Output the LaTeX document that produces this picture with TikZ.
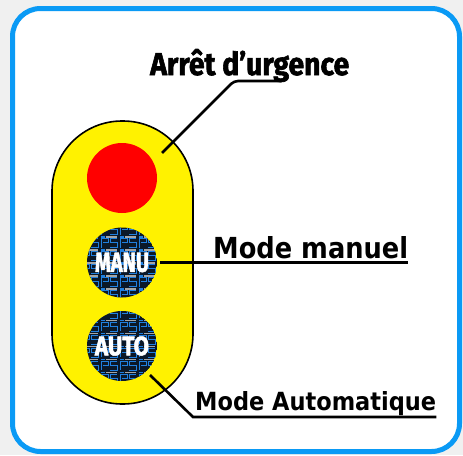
\documentclass[tikz,border=0pt]{standalone}
\usepackage{fontspec}
\usepackage{graphicx}
\newfontfamily\condfont{Fira Sans}[BoldFeatures={FakeBold=2}]
\newfontfamily\modefont{DejaVu Sans}
\definecolor{bgout}{HTML}{F0F0F0}
\definecolor{frameblue}{HTML}{0A9AF5}
\definecolor{lightyellow}{HTML}{FFF200}
\definecolor{navy}{HTML}{0B1828}
\definecolor{patblue}{HTML}{2080E0}
\tikzset{
  leader/.style={line width=2.6pt, black},
  lamp/.style={circle, inner sep=0pt, minimum size=70pt},
  labeltxt/.style={anchor=base west, inner sep=0pt},
}
\newcommand{\btnpattern}[1]{%
  \begin{scope}
    \clip (#1) circle (35pt);
    \fill[navy] (#1) circle (35pt);
    \foreach \r in {-3,...,2}{
      \foreach \c in {-3,...,2}{
        \begin{scope}[shift={($(#1)+(\c*19-3,\r*13+2)$)}]
          \draw[patblue, line width=1pt]
            (1,9)--(1,0)--(8,0)--(8,4)--(3,4)
            (17,0)--(10,0)--(10,4)--(17,4)--(17,9)--(10,9);
          \draw[patblue, line width=1.6pt] (1,11.5)--(5,11.5);
          \draw[gray!70, line width=1.6pt] (6,11.5)--(17,11.5);
        \end{scope}
      }
    }
  \end{scope}
}
\usetikzlibrary{calc}
\begin{document}
\begin{tikzpicture}[x=1pt,y=-1pt]
  \useasboundingbox (0,0) rectangle (463,455);
  \fill[bgout] (0,0) rectangle (463,455);
  \draw[frameblue, line width=5pt, fill=white, rounded corners=28pt]
    (12.5,8.5) rectangle (459.5,451.5);

  % yellow housing
  \draw[black, line width=1.6pt, fill=lightyellow, rounded corners=70pt]
    (52,121) rectangle (193,404);

  % lamps
  \node[lamp, fill=red] (stop) at (122,178) {};
  \btnpattern{122,262.5}
  \btnpattern{122,346}
  \node[lamp] (manu) at (122,262.5)
    {\resizebox{54pt}{19pt}{\condfont\bfseries\color{white}MANU}};
  \node[lamp] (auto) at (122,346)
    {\resizebox{54pt}{19pt}{\condfont\bfseries\color{white}AUTO}};

  % labels
  \node[labeltxt] (arret) at (150,75)
    {\resizebox{199pt}{26pt}{\condfont\bfseries Arrêt d’urgence}};
  \node[labeltxt] (manuel) at (213,258)
    {\resizebox{195pt}{22pt}{\modefont\bfseries Mode manuel}};
  \node[labeltxt] (automatique) at (195,410)
    {\resizebox{241pt}{19pt}{\modefont\bfseries Mode Automatique}};

  % leader lines
  \coordinate (s1) at (162,153);
  \coordinate (k1) at (234,81);
  \coordinate (e1) at (285,75);
  \draw[leader, rounded corners=4pt] (s1) -- (k1) -- (e1 |- k1) -- (e1);

  \coordinate (s2) at ([xshift=3pt]manu.east);
  \draw[leader] (s2) -- (manuel.east |- s2);

  \coordinate (s3) at (150,375);
  \coordinate (k3) at (193,417);
  \draw[leader] (s3) -- (k3) -- (automatique.east |- k3);
\end{tikzpicture}
\end{document}
